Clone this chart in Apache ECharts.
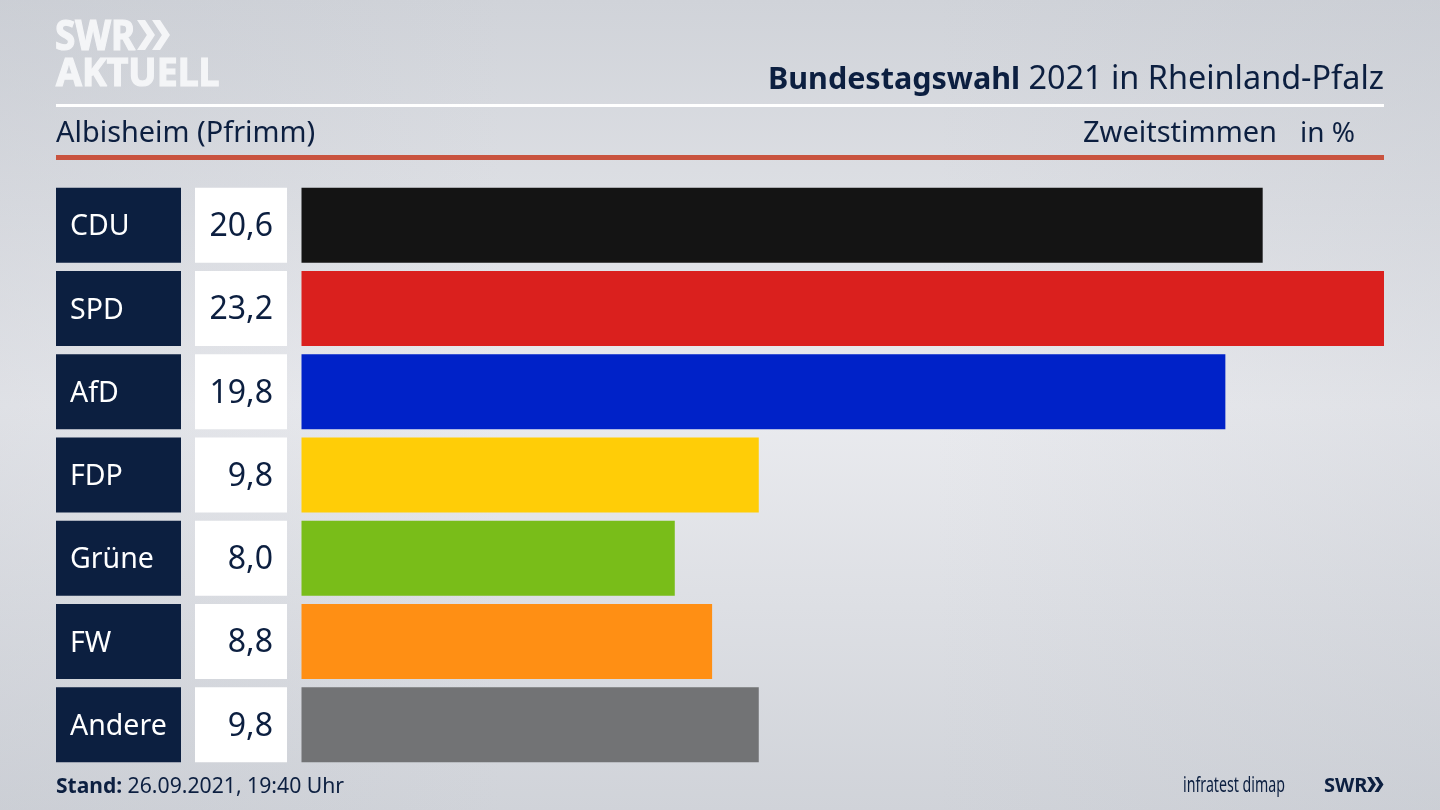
<!DOCTYPE html>
<html lang="de" style="height: 100%">
<head>
	<meta charset="utf-8">
	<title>Bundestagswahl 2021 Albisheim</title>
	<script src="https://cdn.jsdelivr.net/npm/echarts@6/dist/echarts.min.js"></script>
</head>
<body style="height: 100%; margin: 0">
<div id="container" style="width: 1440px; height: 810px"></div>
<script type="text/javascript">
	var parties = ['CDU', 'SPD', 'AfD', 'FDP', 'Grüne', 'FW', 'Andere'];
	var shares = [20.6, 23.2, 19.8, 9.8, 8.0, 8.8, 9.8];
	var partyColors = ['#141414', '#da201e', '#0022c8', '#ffcd07', '#79bd19', '#ff8f14', '#727375'];

	var navy = '#0c1f40';
	var font = '"Noto Sans", sans-serif';
	var top_ = 183.5, rowsHeight = 582.75;

	function fullCells() {
		return parties.map(function () { return 1; });
	}
	function toComma(v) {
		return v.toFixed(1).replace('.', ',');
	}
	function headerText(x, y, text, size, color, align, weight, scaleX) {
		return {
			type: 'text', x: x, y: y, scaleX: scaleX || 1,
			style: {
				text: text, fill: color || navy, align: align || 'left', verticalAlign: 'middle',
				font: (weight || 'normal') + ' ' + size + 'px ' + font
			}
		};
	}
	function logoText(x, y, text, size, scaleX) {
		var el = headerText(x, y, text, size, '#f4f5f7', 'left', 'bold', scaleX);
		el.style.stroke = '#f4f5f7';
		el.style.lineWidth = 1.2;
		return el;
	}
	function rule(y, h, color) {
		return { type: 'rect', shape: { x: 56, y: y, width: 1328, height: h }, style: { fill: color } };
	}
	function chevrons(x, y, h, color) {
		var w = h * 0.33, gap = h * 0.5, t = h * 0.27;
		return [0, 1].map(function (i) {
			var x0 = x + i * gap;
			return {
				type: 'polygon',
				shape: { points: [[x0, y], [x0 + t, y], [x0 + t + w, y + h / 2], [x0 + t, y + h], [x0, y + h], [x0 + w, y + h / 2]] },
				style: { fill: color }
			};
		});
	}

	var grids = [
		{ left: 56, width: 125, top: top_, height: rowsHeight },
		{ left: 195, width: 92, top: top_, height: rowsHeight },
		{ left: 301.5, width: 1082.5, top: top_, height: rowsHeight }
	];
	var xAxes = [1, 1, 23.2].map(function (m, i) {
		return { type: 'value', gridIndex: i, min: 0, max: m, show: false };
	});
	var yAxes = grids.map(function (g, i) {
		return { type: 'category', gridIndex: i, data: parties, inverse: true, show: false };
	});

	var option = {
		animation: false,
		backgroundColor: {
			type: 'linear', x: 0, y: 0, x2: 0, y2: 1,
			colorStops: [
				{ offset: 0, color: '#d0d3d9' },
				{ offset: 0.5, color: '#eaebef' },
				{ offset: 1, color: '#d0d3d9' }
			]
		},
		grid: grids,
		xAxis: xAxes,
		yAxis: yAxes,
		series: [
			{
				type: 'bar', xAxisIndex: 0, yAxisIndex: 0, barWidth: 75, silent: true,
				data: fullCells(),
				itemStyle: { color: navy },
				label: {
					show: true, position: 'insideLeft', distance: 14, offset: [0, 2], color: '#fff',
					fontFamily: font, fontSize: 28.5,
					formatter: function (p) { return p.name; }
				}
			},
			{
				type: 'bar', xAxisIndex: 1, yAxisIndex: 1, barWidth: 75, silent: true,
				data: fullCells(),
				itemStyle: { color: '#fff' },
				label: {
					show: true, position: 'insideRight', distance: 14, offset: [0, 2], color: navy,
					fontFamily: font, fontSize: 32,
					formatter: function (p) { return toComma(shares[p.dataIndex]); }
				}
			},
			{
				type: 'bar', xAxisIndex: 2, yAxisIndex: 2, barWidth: 75, silent: true,
				data: shares.map(function (v, i) {
					return { value: v, itemStyle: { color: partyColors[i] } };
				})
			}
		],
		graphic: {
			elements: [
				{
					type: 'rect', z: -1, shape: { x: 0, y: 0, width: 1440, height: 810 },
					style: {
						fill: {
							type: 'linear', x: 0, y: 0, x2: 1, y2: 0,
							colorStops: [
								{ offset: 0, color: 'rgba(190,194,202,0.25)' },
								{ offset: 0.35, color: 'rgba(190,194,202,0)' },
								{ offset: 0.65, color: 'rgba(190,194,202,0)' },
								{ offset: 1, color: 'rgba(190,194,202,0.25)' }
							]
						}
					}
				},
				rule(104, 3, '#ffffff'),
				rule(155, 5, '#c9533f'),
				logoText(55, 38, 'SWR', 41, 0.9),
				logoText(56, 75, 'AKTUELL', 39, 0.96),
				{
					type: 'text', x: 1384, y: 80,
					style: {
						text: '{b|Bundestagswahl} 2021 in Rheinland-Pfalz',
						align: 'right', verticalAlign: 'middle', fill: navy,
						font: '32.4px ' + font,
						rich: {
							b: { font: 'bold 30.5px ' + font, fill: navy }
						}
					}
				},
				headerText(56, 134, 'Albisheim (Pfrimm)', 28.9),
				headerText(1083, 134, 'Zweitstimmen', 29),
				headerText(1300, 134, 'in %', 28),
				{
					type: 'text', x: 56, y: 787,
					style: {
						text: '{b|Stand:} 26.09.2021, 19:40 Uhr',
						align: 'left', verticalAlign: 'middle', fill: navy,
						font: '21.2px ' + font,
						rich: {
							b: { font: 'bold 21px ' + font, fill: navy }
						}
					}
				},
				headerText(1183, 786, 'infratest dimap', 21.5, navy, 'left', 'normal', 0.66),
				headerText(1324, 786, 'SWR', 20, navy, 'left', 'bold')
			].concat(chevrons(137, 20, 30, '#f4f5f7'), chevrons(1367, 777, 15, navy))
		}
	};

	var myChart = echarts.init(document.getElementById('container'));
	myChart.setOption(option);
</script>
</body>
</html>
